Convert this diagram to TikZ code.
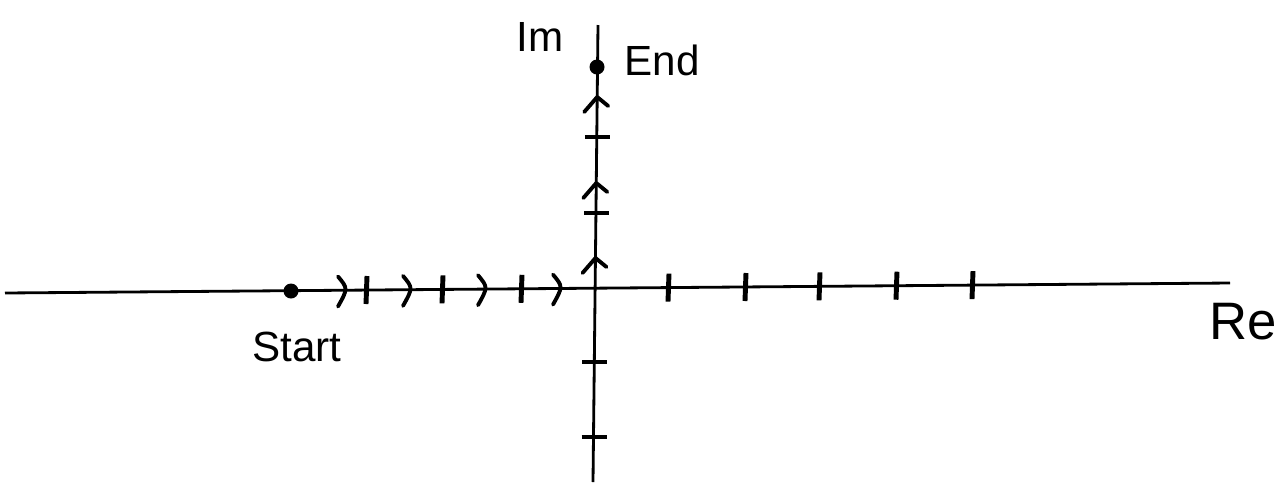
\documentclass[tikz,border=0pt]{standalone}
\usepackage{fontspec}
\setmainfont{Liberation Sans}
\tikzset{
axisline/.style={line width=0.8pt,black},
tickmark/.style={line width=1.4pt,black},
dirmark/.style={line width=1.1pt,black,line cap=round,line join=round},
dot/.style={circle,fill=black,inner sep=0pt,minimum size=1.5mm},
lbl/.style={font=\fontsize{12}{14}\selectfont,inner sep=1pt}
}

\begin{document}
\begin{tikzpicture}[x=0.1mm,y=-0.1mm]
\useasboundingbox (0,0) rectangle (1277,484);
% axes
\coordinate (reL) at (5,293);
\coordinate (reR) at (1230,283);
\coordinate (imT) at (598,25);
\coordinate (imB) at (593,482);
\draw[axisline] (reL) -- (reR);
\draw[axisline] (imB) -- (imT);
% start and end of the path
\node[dot] (start) at (291,291) {};
\node[dot] (end) at (597,67) {};
\node[lbl] (startlbl) at (297,347) {Start};
\node[lbl] (endlbl) at (662,60) {End};
\node[lbl] (imlbl) at (540,37) {Im};
\node[lbl,font=\fontsize{15}{17}\selectfont] (relbl) at (1243,322) {Re};
% ticks on the real axis
\foreach \x/\y in {367/290,443/289.4,522/288.8,669/287.6,746/287,820/286.4,897/285.7,973/285.1}
  \draw[tickmark] (\x,\y-14) -- (\x-1,\y+14);
% ticks on the imaginary axis
\foreach \y/\x in {137/596.8,213/596,362/594.3,437/593.5}
  \draw[tickmark] (\x-12,\y) -- (\x+13,\y);
% direction marks, real axis
\foreach \x/\y in {341/290.5,406/289.9,481/289.2,556/288.6}
  \draw[dirmark] (\x-3,\y-14) .. controls (\x+7,\y-2) .. (\x-3,\y+16);
% direction marks, imaginary axis
\foreach \y/\x in {97/597.2,183/596.3,258/595.5}
  \draw[dirmark] (\x-13,\y+15) -- (\x,\y) -- (\x+11,\y+9);
\end{tikzpicture}
\end{document}
